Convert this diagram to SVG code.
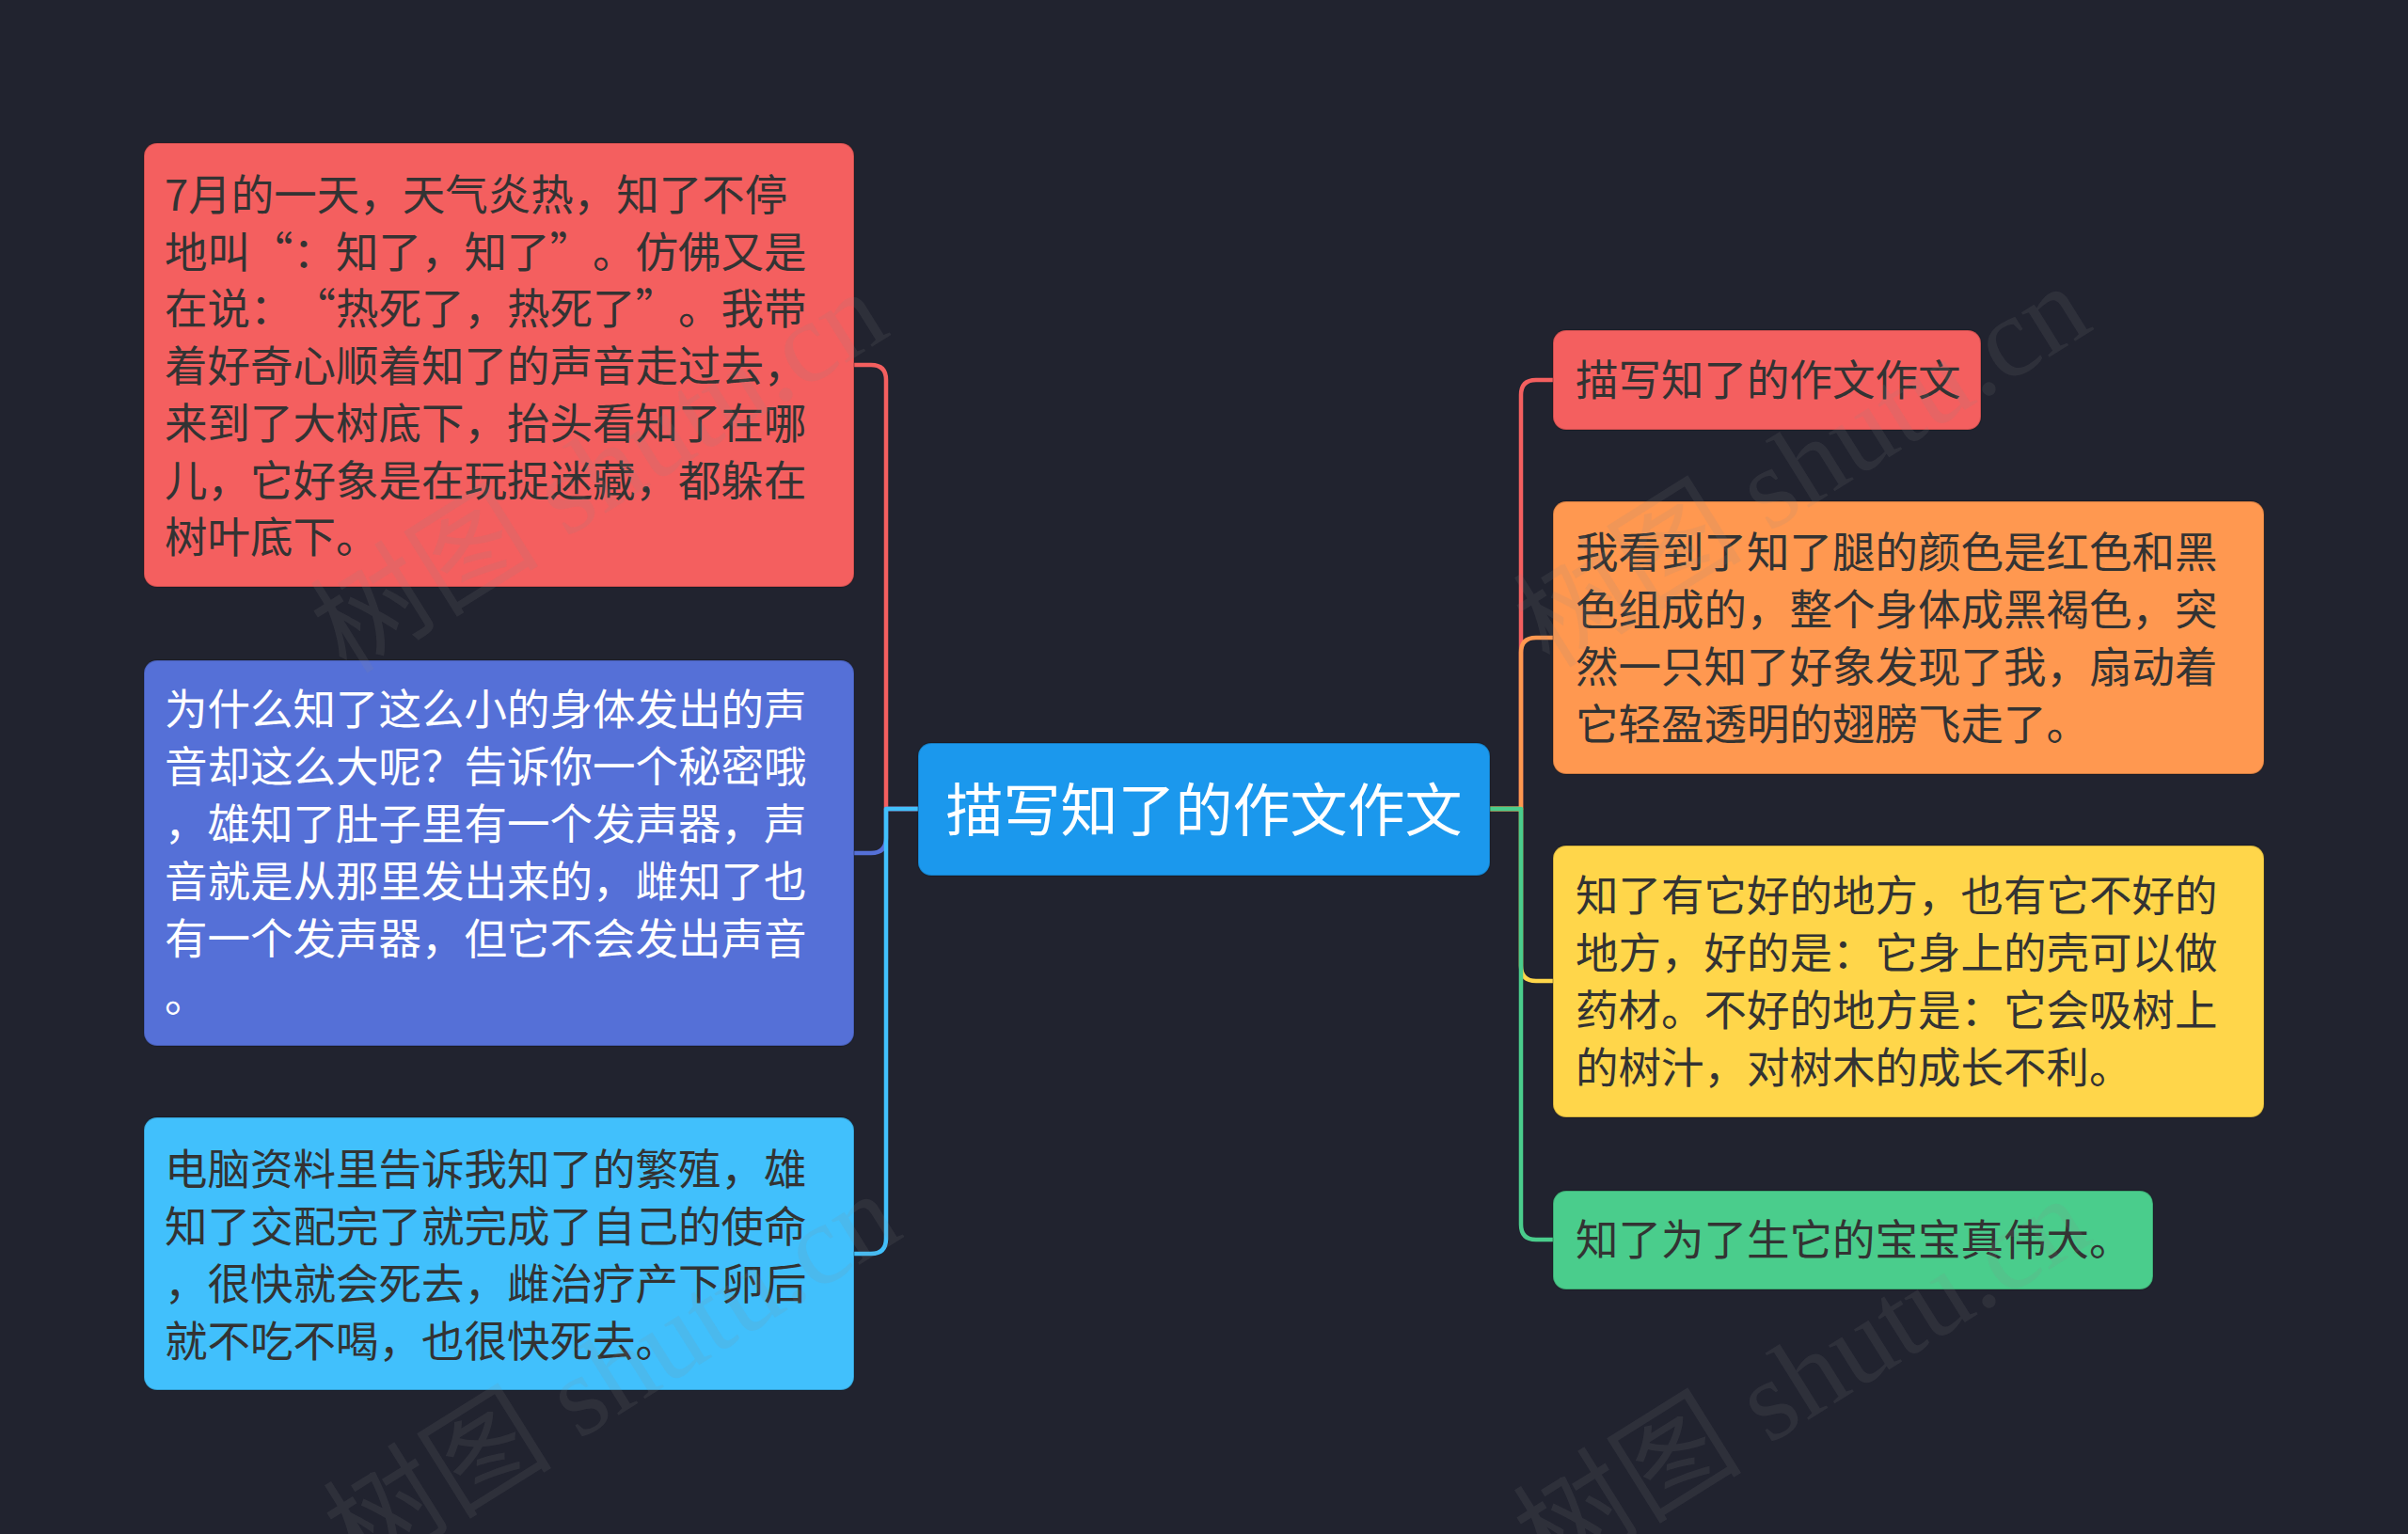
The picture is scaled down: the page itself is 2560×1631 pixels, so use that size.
<svg xmlns="http://www.w3.org/2000/svg" width="2560" height="1631" viewBox="0 0 2560 1631">
<style>
.bg{fill:#21232f}
.node rect{stroke:rgba(0,0,0,0.18);stroke-width:2}
.t{font-family:"Noto Sans CJK SC","Noto Sans",sans-serif;font-size:45.5px}
.dark{fill:#333333}
.light{fill:#ffffff}
.conn path{fill:none;stroke-width:4.5;stroke-linecap:round;stroke-linejoin:round}
.wm{font-family:"Liberation Serif","Noto Sans CJK SC",serif;font-size:122px;fill:#8a8a8a;fill-opacity:0.13}
</style>
<rect class="bg" x="0" y="0" width="2560" height="1631"/>

<g id="connectors" class="conn">
  <path d="M976 860 H942 V404 Q942 388 926 388 H908" stroke="#f45f5f"/>
  <path d="M976 860 H942 V891 Q942 907 926 907 H908" stroke="#5570d7"/>
  <path d="M976 860 H942 V1317 Q942 1333 926 1333 H908" stroke="#41c0fc"/>
  <path d="M1584 860 H1617 V420 Q1617 404 1633 404 H1651" stroke="#f45f5f"/>
  <path d="M1584 860 H1617 V694 Q1617 678 1633 678 H1651" stroke="#ff9850"/>
  <path d="M1584 860 H1617 V1027 Q1617 1043 1633 1043 H1651" stroke="#ffd64a"/>
  <path d="M1584 860 H1617 V1302 Q1617 1318 1633 1318 H1651" stroke="#4acd8c"/>
</g>

<g id="root" class="node">
  <rect x="976" y="790" width="608" height="141" rx="14" fill="#1b98ed"/>
  <text class="light" x="1280" y="884" text-anchor="middle" font-family="Noto Sans CJK SC, Noto Sans, sans-serif" font-size="61">描写知了的作文作文</text>
</g>

<g id="left1" class="node">
  <rect x="153" y="152" width="755" height="472" rx="14" fill="#f45f5f"/>
  <text class="t dark" x="175" y="224">
    <tspan x="175" y="224">7月的一天，天气炎热，知了不停</tspan>
    <tspan x="175 220.5 266 311.5 357 402.5 448 493.5 539 584.5 630 675.5 721 766.5 812" dy="60.7">地叫“：知了，知了”。仿佛又是</tspan>
    <tspan x="175 220.5 266 311.5 357 402.5 448 493.5 539 584.5 630 675.5 721 766.5 812" dy="60.7">在说：“热死了，热死了”。我带</tspan>
    <tspan x="175" dy="60.7">着好奇心顺着知了的声音走过去，</tspan>
    <tspan x="175" dy="60.7">来到了大树底下，抬头看知了在哪</tspan>
    <tspan x="175" dy="60.7">儿，它好象是在玩捉迷藏，都躲在</tspan>
    <tspan x="175" dy="60.7">树叶底下。</tspan>
  </text>
</g>

<g id="left2" class="node">
  <rect x="153" y="702" width="755" height="410" rx="14" fill="#5570d7"/>
  <text class="t light" x="175" y="771">
    <tspan x="175" y="771">为什么知了这么小的身体发出的声</tspan>
    <tspan x="175" dy="61">音却这么大呢？告诉你一个秘密哦</tspan>
    <tspan x="175" dy="61">，雄知了肚子里有一个发声器，声</tspan>
    <tspan x="175" dy="61">音就是从那里发出来的，雌知了也</tspan>
    <tspan x="175" dy="61">有一个发声器，但它不会发出声音</tspan>
    <tspan x="175" dy="61">。</tspan>
  </text>
</g>

<g id="left3" class="node">
  <rect x="153" y="1188" width="755" height="290" rx="14" fill="#41c0fc"/>
  <text class="t dark" x="175" y="1260">
    <tspan x="175" y="1260">电脑资料里告诉我知了的繁殖，雄</tspan>
    <tspan x="175" dy="61">知了交配完了就完成了自己的使命</tspan>
    <tspan x="175" dy="61">，很快就会死去，雌治疗产下卵后</tspan>
    <tspan x="175" dy="61">就不吃不喝，也很快死去。</tspan>
  </text>
</g>

<g id="right1" class="node">
  <rect x="1651" y="351" width="455" height="106" rx="14" fill="#f45f5f"/>
  <text class="t dark" x="1675" y="421">描写知了的作文作文</text>
</g>

<g id="right2" class="node">
  <rect x="1651" y="533" width="756" height="290" rx="14" fill="#ff9850"/>
  <text class="t dark" x="1675" y="604">
    <tspan x="1675" y="604">我看到了知了腿的颜色是红色和黑</tspan>
    <tspan x="1675" dy="61">色组成的，整个身体成黑褐色，突</tspan>
    <tspan x="1675" dy="61">然一只知了好象发现了我，扇动着</tspan>
    <tspan x="1675" dy="61">它轻盈透明的翅膀飞走了。</tspan>
  </text>
</g>

<g id="right3" class="node">
  <rect x="1651" y="899" width="756" height="289" rx="14" fill="#ffd64a"/>
  <text class="t dark" x="1675" y="969">
    <tspan x="1675" y="969">知了有它好的地方，也有它不好的</tspan>
    <tspan x="1675" dy="61">地方，好的是：它身上的壳可以做</tspan>
    <tspan x="1675" dy="61">药材。不好的地方是：它会吸树上</tspan>
    <tspan x="1675" dy="61">的树汁，对树木的成长不利。</tspan>
  </text>
</g>

<g id="right4" class="node">
  <rect x="1651" y="1266" width="638" height="105" rx="14" fill="#4acd8c"/>
  <text class="t dark" x="1675" y="1335">知了为了生它的宝宝真伟大。</text>
</g>

<g id="watermarks">
  <text class="wm" x="646" y="540" text-anchor="middle" transform="rotate(-32 646 516)">树图 shutu.cn</text>
  <text class="wm" x="1925" y="534" text-anchor="middle" transform="rotate(-32 1925 510)">树图 shutu.cn</text>
  <text class="wm" x="660" y="1499" text-anchor="middle" transform="rotate(-32 660 1475)">树图 shutu.cn</text>
  <text class="wm" x="1925" y="1504" text-anchor="middle" transform="rotate(-32 1925 1480)">树图 shutu.cn</text>
</g>
</svg>
